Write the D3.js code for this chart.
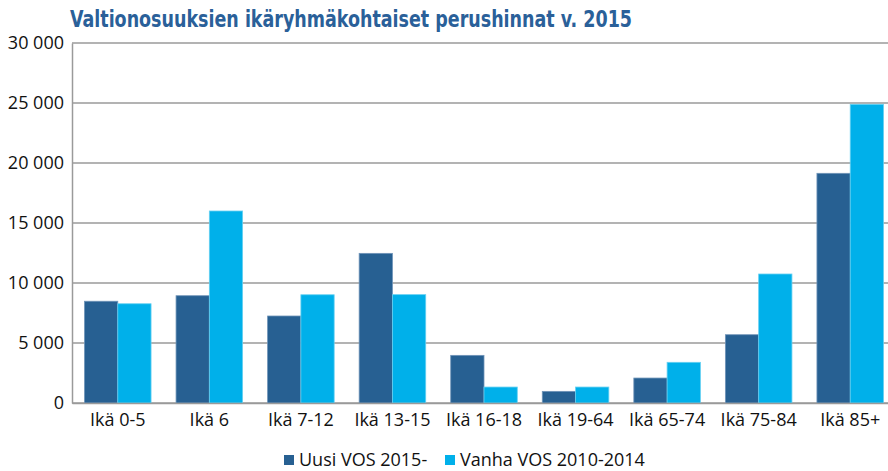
<!DOCTYPE html>
<html>
<head>
<meta charset="utf-8">
<script src="https://cdn.jsdelivr.net/npm/d3@7"></script>
<style>
  body { margin: 0; background: #fff; }
  text { font-family: "Open Sans", "Noto Sans", sans-serif; }
</style>
</head>
<body>
<div id="chart"></div>
<script>
// age groups and the two funding models
let categories = ["Ikä 0-5", "Ikä 6", "Ikä 7-12", "Ikä 13-15", "Ikä 16-18", "Ikä 19-64", "Ikä 65-74", "Ikä 75-84", "Ikä 85+"];
let seriesNames = ["Uusi VOS 2015-", "Vanha VOS 2010-2014"];
let uusi = [8480, 8940, 7250, 12470, 3970, 970, 2080, 5690, 19140];
let vanha = [8270, 16000, 9020, 9030, 1330, 1330, 3390, 10750, 24890];
let yTicks = [0, 5000, 10000, 15000, 20000, 25000, 30000];
let colors = ["#276092", "#00b0ea"];

let svgWidth = 888;
let svgHeight = 471;
let plotLeft = 72, plotRight = 896, plotTop = 43, plotBottom = 403;
let fontSize = 18;

let svg = d3.select('#chart')
  .append('svg')
  .attr('width', svgWidth)
  .attr('height', svgHeight);

// title, squeezed to the width it has in the original
let title = svg.append('text')
  .attr('x', 70)
  .attr('y', 27)
  .attr('fill', '#2a6099')
  .attr('font-weight', 'bold')
  .style('font-family', '"DejaVu Sans Condensed", "DejaVu Sans", sans-serif')
  .attr('font-size', 22.5)
  .text('Valtionosuuksien ikäryhmäkohtaiset perushinnat v. 2015');
title.attr('textLength', 562).attr('lengthAdjust', 'spacingAndGlyphs');

let x0 = d3.scaleBand().domain(categories).range([plotLeft, plotRight]).paddingInner(0.273).paddingOuter(0.1365);
let x1 = d3.scaleBand().domain([0, 1]).range([0, x0.bandwidth()]);
let y = d3.scaleLinear().domain([0, 30000]).range([plotBottom, plotTop]);

let fmt = function (d) { return d3.format(',')(d).replace(/,/g, ' '); };

// gridlines
svg.append('g')
  .selectAll('line')
  .data(yTicks)
  .enter()
  .append('line')
  .attr('x1', plotLeft)
  .attr('x2', svgWidth)
  .attr('y1', d => y(d))
  .attr('y2', d => y(d))
  .attr('stroke', '#9a9a9a')
  .attr('stroke-width', 1.5);

// y axis
let yAxis = svg.append('g')
  .attr('transform', 'translate(' + plotLeft + ',0)')
  .call(d3.axisLeft(y).tickValues(yTicks).tickFormat(fmt).tickSize(0).tickPadding(8));
yAxis.select('.domain').attr('stroke', '#9a9a9a').attr('stroke-width', 1.5);
yAxis.selectAll('text').attr('font-size', fontSize).attr('fill', '#111').style('font-family', '"Open Sans", sans-serif');

// bars
let groups = svg.append('g')
  .selectAll('g')
  .data(categories)
  .enter()
  .append('g')
  .attr('transform', d => 'translate(' + x0(d) + ',0)');

groups.selectAll('rect')
  .data((d, i) => [uusi[i], vanha[i]])
  .enter()
  .append('rect')
  .attr('x', (d, j) => x1(j))
  .attr('width', x1.bandwidth())
  .attr('y', d => y(d))
  .attr('height', d => plotBottom - y(d))
  .attr('fill', (d, j) => colors[j])
  .attr('stroke', (d, j) => j === 0 ? '#6f94b8' : '#66d0f2')
  .attr('stroke-width', 0.8);

// x axis
let xAxis = svg.append('g')
  .attr('transform', 'translate(0,' + plotBottom + ')')
  .call(d3.axisBottom(x0).tickSize(0).tickPadding(10));
xAxis.select('.domain').attr('stroke', '#9a9a9a').attr('stroke-width', 1.5);
xAxis.selectAll('text').attr('font-size', fontSize).attr('fill', '#111').style('font-family', '"Open Sans", sans-serif');

// legend
let legendX = [284, 445];
let legend = svg.append('g')
  .selectAll('g')
  .data(seriesNames)
  .enter()
  .append('g')
  .attr('transform', (d, i) => 'translate(' + legendX[i] + ',455)');
legend.append('rect')
  .attr('width', 10)
  .attr('height', 10)
  .attr('fill', (d, i) => colors[i]);
legend.append('text')
  .attr('x', 15)
  .attr('y', 11)
  .attr('font-size', fontSize)
  .attr('fill', '#111')
  .text(d => d);
</script>
</body>
</html>
